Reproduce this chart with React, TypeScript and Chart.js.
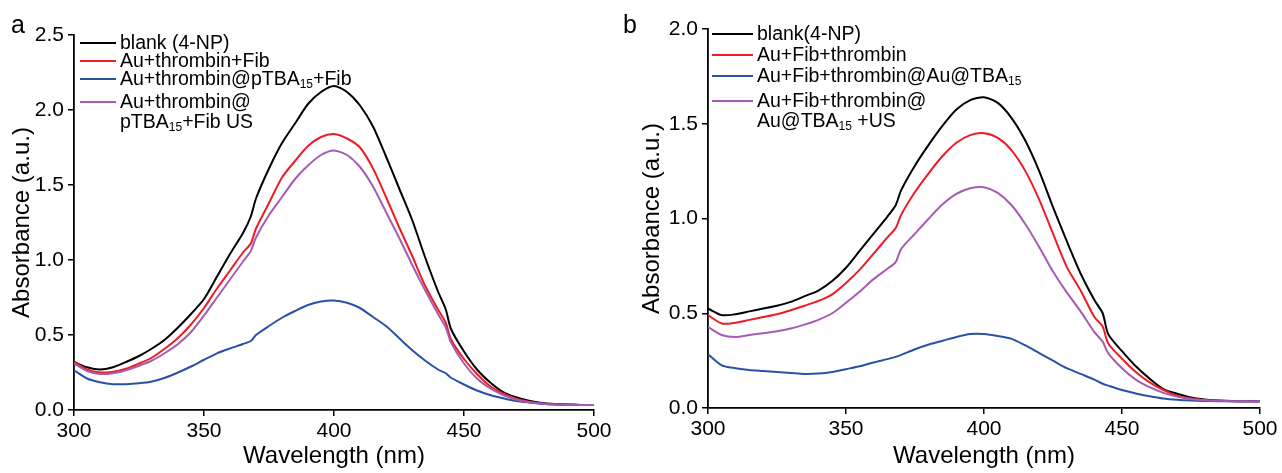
import React, { useEffect, useRef } from "react";
import { Chart, registerables } from "chart.js";
Chart.register(...registerables);

const FONT = "'Liberation Sans', Arial, sans-serif";

const wavelengths = [300, 305, 310, 315, 320, 325, 330, 335, 340, 345, 350, 355, 360, 365, 368, 370, 375, 380, 385, 390, 395, 400, 405, 410, 415, 420, 425, 430, 435, 440, 443, 445, 450, 455, 460, 465, 470, 475, 480, 485, 490, 495, 500];

// Panel a
const aBlank = [0.32, 0.285, 0.27, 0.285, 0.32, 0.36, 0.41, 0.47, 0.55, 0.64, 0.74, 0.89, 1.04, 1.18, 1.29, 1.41, 1.61, 1.78, 1.91, 2.04, 2.12, 2.16, 2.12, 2.03, 1.89, 1.69, 1.48, 1.27, 1.02, 0.79, 0.67, 0.54, 0.39, 0.27, 0.185, 0.12, 0.085, 0.062, 0.047, 0.04, 0.036, 0.034, 0.033];
const aAuThrFib = [0.32, 0.27, 0.25, 0.255, 0.275, 0.31, 0.35, 0.41, 0.48, 0.57, 0.68, 0.81, 0.93, 1.05, 1.11, 1.21, 1.38, 1.55, 1.66, 1.76, 1.82, 1.84, 1.81, 1.75, 1.61, 1.42, 1.22, 1.03, 0.83, 0.67, 0.58, 0.47, 0.34, 0.24, 0.16, 0.11, 0.075, 0.055, 0.044, 0.038, 0.035, 0.034, 0.033];
const aAuThrPTBA = [0.265, 0.21, 0.185, 0.172, 0.172, 0.178, 0.19, 0.215, 0.25, 0.29, 0.335, 0.378, 0.41, 0.44, 0.46, 0.50, 0.56, 0.615, 0.66, 0.70, 0.723, 0.73, 0.715, 0.68, 0.62, 0.56, 0.48, 0.40, 0.33, 0.27, 0.245, 0.215, 0.17, 0.13, 0.10, 0.078, 0.06, 0.05, 0.042, 0.037, 0.035, 0.034, 0.033];
const aAuThrPTBAUS = [0.31, 0.26, 0.24, 0.245, 0.265, 0.295, 0.33, 0.38, 0.44, 0.52, 0.63, 0.75, 0.87, 0.99, 1.06, 1.15, 1.30, 1.42, 1.54, 1.63, 1.70, 1.73, 1.70, 1.62, 1.49, 1.32, 1.15, 0.97, 0.80, 0.64, 0.55, 0.45, 0.31, 0.21, 0.145, 0.10, 0.07, 0.052, 0.042, 0.037, 0.035, 0.034, 0.033];

// Panel b
const bBlank = [0.525, 0.49, 0.495, 0.51, 0.525, 0.54, 0.56, 0.59, 0.62, 0.67, 0.74, 0.83, 0.92, 1.01, 1.07, 1.15, 1.28, 1.39, 1.49, 1.575, 1.625, 1.64, 1.61, 1.53, 1.41, 1.25, 1.06, 0.88, 0.71, 0.57, 0.50, 0.39, 0.30, 0.22, 0.155, 0.10, 0.075, 0.055, 0.045, 0.04, 0.037, 0.036, 0.035];
const bAuFibThr = [0.49, 0.446, 0.45, 0.465, 0.48, 0.495, 0.516, 0.54, 0.565, 0.60, 0.66, 0.73, 0.815, 0.90, 0.95, 1.02, 1.14, 1.24, 1.33, 1.40, 1.44, 1.45, 1.425, 1.36, 1.25, 1.10, 0.92, 0.745, 0.62, 0.48, 0.43, 0.34, 0.26, 0.19, 0.135, 0.095, 0.065, 0.05, 0.042, 0.038, 0.036, 0.035, 0.035];
const bAuFibThrTBA = [0.284, 0.225, 0.21, 0.20, 0.195, 0.19, 0.185, 0.18, 0.182, 0.19, 0.205, 0.22, 0.24, 0.258, 0.27, 0.28, 0.31, 0.335, 0.355, 0.375, 0.39, 0.39, 0.38, 0.365, 0.33, 0.29, 0.25, 0.21, 0.18, 0.15, 0.128, 0.118, 0.095, 0.077, 0.062, 0.05, 0.043, 0.039, 0.037, 0.036, 0.035, 0.035, 0.035];
const bAuFibThrTBAUS = [0.428, 0.385, 0.375, 0.385, 0.395, 0.405, 0.42, 0.44, 0.465, 0.50, 0.555, 0.615, 0.68, 0.735, 0.77, 0.84, 0.92, 1.00, 1.075, 1.13, 1.16, 1.165, 1.135, 1.07, 0.97, 0.85, 0.72, 0.61, 0.51, 0.40, 0.35, 0.29, 0.21, 0.15, 0.11, 0.08, 0.06, 0.048, 0.041, 0.038, 0.036, 0.035, 0.035];

const xTicks = [300, 350, 400, 450, 500];
const aYTicks = [0, 0.5, 1.0, 1.5, 2.0, 2.5];
const bYTicks = [0, 0.5, 1.0, 1.5, 2.0];

const COLORS = { black: "#000000", red: "#ee1c24", blue: "#2a52a4", purple: "#a65cb3" };

type PanelCfg = {
  series: { values: number[]; color: string; order: number }[];
  yMax: number;
  yTicks: number[];
  width: number;
  height: number;
  yAxisWidth: number;
  xAxisHeight: number;
  padTop: number;
  padRight: number;
  yTitlePad: number;
};

function ChartPanel({ cfg }: { cfg: PanelCfg }) {
  const ref = useRef<HTMLCanvasElement | null>(null);
  useEffect(() => {
    if (!ref.current) return;
    const tickFont = { family: FONT, size: 21 };
    const titleFont = { family: FONT, size: 24 };
    const chart = new Chart(ref.current, {
      type: "line",
      data: {
        datasets: cfg.series.map((s) => ({
          data: wavelengths.map((w, i) => ({ x: w, y: s.values[i] })),
          borderColor: s.color,
          backgroundColor: s.color,
          borderWidth: 2,
          pointRadius: 0,
          tension: 0.25,
          fill: false,
          order: s.order,
        })),
      },
      options: {
        animation: false,
        responsive: false,
        layout: { padding: { top: cfg.padTop, right: cfg.padRight, left: 0, bottom: 0 } },
        plugins: { legend: { display: false }, tooltip: { enabled: false } },
        scales: {
          x: {
            type: "linear",
            min: 300,
            max: 500,
            afterBuildTicks: (s: any) => {
              s.ticks = xTicks.map((v) => ({ value: v }));
            },
            afterFit: (s: any) => {
              s.height = cfg.xAxisHeight;
            },
            ticks: { color: "#000", font: tickFont, padding: 3, maxRotation: 0 },
            grid: { display: true, drawOnChartArea: false, drawTicks: true, tickLength: 6, color: "#000", lineWidth: 1.5 },
            border: { display: true, color: "#000", width: 1.8 },
            title: { display: true, text: "Wavelength (nm)", color: "#000", font: titleFont, padding: { top: 0, bottom: 2 } },
          },
          y: {
            type: "linear",
            min: 0,
            max: cfg.yMax,
            afterBuildTicks: (s: any) => {
              s.ticks = cfg.yTicks.map((v) => ({ value: v }));
            },
            afterFit: (s: any) => {
              s.width = cfg.yAxisWidth;
            },
            ticks: { color: "#000", font: tickFont, padding: 4, callback: (v: any) => Number(v).toFixed(1) },
            grid: { display: true, drawOnChartArea: false, drawTicks: true, tickLength: 6, color: "#000", lineWidth: 1.5 },
            border: { display: true, color: "#000", width: 1.8 },
            title: { display: true, text: "Absorbance (a.u.)", color: "#000", font: titleFont, padding: { top: cfg.yTitlePad, bottom: 0 } },
          },
        },
      },
    } as any);
    return () => chart.destroy();
  }, []);
  return <canvas ref={ref} width={cfg.width} height={cfg.height} style={{ display: "block" }} />;
}

const legendText: React.CSSProperties = {
  position: "absolute",
  fontFamily: FONT,
  fontSize: 19.5,
  color: "#000",
  lineHeight: "20px",
  whiteSpace: "nowrap",
};

function Sub({ children }: { children: React.ReactNode }) {
  return <span style={{ fontSize: 12, position: "relative", top: 3 }}>{children}</span>;
}

function LegendItem({ x, y, color, lineLen, children }: { x: number; y: number; color: string; lineLen: number; children: React.ReactNode }) {
  return (
    <>
      <div style={{ position: "absolute", left: x, top: y - 1, width: lineLen, height: 2.2, background: color }} />
      <div style={{ ...legendText, left: x + lineLen + 4, top: y - 11 }}>{children}</div>
    </>
  );
}

export default function App() {
  const panelA: PanelCfg = {
    series: [
      { values: aBlank, color: COLORS.black, order: 4 },
      { values: aAuThrFib, color: COLORS.red, order: 3 },
      { values: aAuThrPTBA, color: COLORS.blue, order: 2 },
      { values: aAuThrPTBAUS, color: COLORS.purple, order: 1 },
    ],
    yMax: 2.5,
    yTicks: aYTicks,
    width: 620,
    height: 473,
    yAxisWidth: 74,
    xAxisHeight: 63,
    padTop: 35,
    padRight: 26,
    yTitlePad: 8,
  };
  const panelB: PanelCfg = {
    series: [
      { values: bBlank, color: COLORS.black, order: 4 },
      { values: bAuFibThr, color: COLORS.red, order: 3 },
      { values: bAuFibThrTBA, color: COLORS.blue, order: 2 },
      { values: bAuFibThrTBAUS, color: COLORS.purple, order: 1 },
    ],
    yMax: 2.0,
    yTicks: bYTicks,
    width: 662,
    height: 473,
    yAxisWidth: 88,
    xAxisHeight: 65,
    padTop: 29,
    padRight: 22,
    yTitlePad: 18,
  };
  return (
    <div style={{ position: "absolute", left: 0, top: 0, width: 1282, height: 473, background: "#fff", overflow: "hidden" }}>
      <div style={{ position: "absolute", left: 0, top: 0 }}>
        <ChartPanel cfg={panelA} />
      </div>
      <div style={{ position: "absolute", left: 620, top: 0 }}>
        <ChartPanel cfg={panelB} />
      </div>
      <div style={{ position: "absolute", left: 11, top: 10, fontFamily: FONT, fontSize: 25, color: "#000" }}>a</div>
      <div style={{ position: "absolute", left: 623, top: 10, fontFamily: FONT, fontSize: 25, color: "#000" }}>b</div>

      <LegendItem x={80} y={43} color={COLORS.black} lineLen={36}>blank (4-NP)</LegendItem>
      <LegendItem x={80} y={61} color={COLORS.red} lineLen={36}>Au+thrombin+Fib</LegendItem>
      <LegendItem x={80} y={79} color={COLORS.blue} lineLen={36}>Au+thrombin@pTBA<Sub>15</Sub>+Fib</LegendItem>
      <LegendItem x={80} y={102} color={COLORS.purple} lineLen={36}>
        Au+thrombin@
        <br />
        pTBA<Sub>15</Sub>+Fib US
      </LegendItem>

      <LegendItem x={712} y={34} color={COLORS.black} lineLen={41}>blank(4-NP)</LegendItem>
      <LegendItem x={712} y={55} color={COLORS.red} lineLen={41}>Au+Fib+thrombin</LegendItem>
      <LegendItem x={712} y={76} color={COLORS.blue} lineLen={41}>Au+Fib+thrombin@Au@TBA<Sub>15</Sub></LegendItem>
      <LegendItem x={712} y={101} color={COLORS.purple} lineLen={41}>
        Au+Fib+thrombin@
        <br />
        Au@TBA<Sub>15</Sub> +US
      </LegendItem>
    </div>
  );
}
